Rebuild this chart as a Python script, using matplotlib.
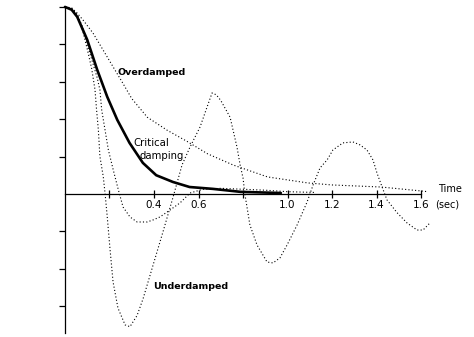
import matplotlib
matplotlib.use("Agg")
import matplotlib.pyplot as plt

# Kritik sönümleme (kalın düz çizgi)
t_kritik = [0, 0.03, 0.055, 0.1, 0.145, 0.19, 0.235, 0.29, 0.35, 0.41,
            0.485, 0.56, 0.665, 0.79, 0.97]
y_kritik = [1.0, 0.985, 0.947, 0.824, 0.663, 0.519, 0.396, 0.273, 0.166, 0.10,
            0.064, 0.037, 0.027, 0.011, 0.005]

# Aşırı sönümlü
t_asiri = [0, 0.03, 0.054, 0.081, 0.126, 0.171, 0.216, 0.261, 0.30, 0.37,
           0.46, 0.55, 0.64, 0.755, 0.91, 1.09, 1.2, 1.42, 1.6, 1.63]
y_asiri = [1.0, 0.995, 0.968, 0.93, 0.86, 0.77, 0.68, 0.59, 0.51, 0.41,
           0.34, 0.28, 0.215, 0.155, 0.091, 0.059, 0.048, 0.037, 0.016, 0.012]

# Az sönümlü (derin salınım)
t_az = [0, 0.03, 0.054, 0.076, 0.099, 0.12, 0.135, 0.142, 0.15, 0.157,
        0.172, 0.18, 0.189, 0.202, 0.216, 0.238, 0.27, 0.292, 0.324, 0.351,
        0.396, 0.441, 0.485, 0.526, 0.562, 0.607, 0.64, 0.661, 0.68, 0.70,
        0.742, 0.773, 0.787, 0.80, 0.809, 0.831, 0.863, 0.908, 0.935, 0.966,
        0.998, 1.043, 1.088, 1.115, 1.146, 1.178, 1.204, 1.249, 1.294, 1.326,
        1.357, 1.384, 1.402, 1.425, 1.447, 1.492, 1.537, 1.582, 1.609, 1.64]
y_az = [1.0, 0.99, 0.955, 0.89, 0.78, 0.67, 0.556, 0.449, 0.342, 0.2,
        0.093, 0.004, -0.11, -0.29, -0.47, -0.61, -0.70, -0.71, -0.65, -0.56,
        -0.38, -0.20, -0.02, 0.155, 0.251, 0.358, 0.47, 0.54, 0.53, 0.50,
        0.41, 0.25, 0.155, 0.086, -0.005, -0.166, -0.273, -0.364, -0.369, -0.342,
        -0.273, -0.166, -0.043, 0.048, 0.139, 0.182, 0.235, 0.273, 0.278, 0.262,
        0.235, 0.182, 0.112, 0.037, -0.032, -0.10, -0.155, -0.193, -0.193, -0.155]

# Az sönümlü (hafif salınım)
t_hafif = [0, 0.03, 0.054, 0.08, 0.1, 0.125, 0.145, 0.157, 0.165, 0.18,
           0.195, 0.217, 0.24, 0.261, 0.292, 0.324, 0.369, 0.396, 0.427, 0.472,
           0.517, 0.562, 0.62, 0.7, 0.8, 0.9, 1.0, 1.12]
y_hafif = [1.0, 0.99, 0.96, 0.89, 0.80, 0.70, 0.62, 0.556, 0.449, 0.342,
           0.235, 0.128, 0.021, -0.07, -0.123, -0.15, -0.15, -0.139, -0.123, -0.086,
           -0.048, 0.005, 0.025, 0.03, 0.025, 0.02, 0.012, 0.008]

x_ticks = [0.2, 0.4, 0.6, 0.8, 1.0, 1.2, 1.4, 1.6]
x_labels = ["", "0.4", "0.6", "", "1.0", "1.2", "1.4", "1.6"]
y_ticks = [-0.6, -0.4, -0.2, 0.2, 0.4, 0.6, 0.8, 1.0]

fig = plt.figure(figsize=(4.74, 3.37), dpi=100)
ax = fig.add_axes([0, 0, 1, 1])
ax.set_xlim(-0.292, 1.838)
ax.set_ylim(-0.765, 1.037)

nokta = (0, (1, 2))
for t, y in [(t_asiri, y_asiri), (t_az, y_az), (t_hafif, y_hafif)]:
    ax.plot(t, y, color="black", lw=0.8, linestyle=nokta)
ax.plot(t_kritik, y_kritik, color="black", lw=1.9, solid_capstyle="round")

for s in ["top", "right"]:
    ax.spines[s].set_visible(False)
ax.spines["left"].set_position(("data", 0))
ax.spines["bottom"].set_position(("data", 0))
ax.spines["left"].set_bounds(-0.745, 1.0)
ax.spines["bottom"].set_bounds(0, 1.6)
ax.spines["left"].set_linewidth(0.9)
ax.spines["bottom"].set_linewidth(0.9)

ax.set_xticks(x_ticks)
ax.set_xticklabels(x_labels)
ax.set_yticks(y_ticks)
ax.set_yticklabels([])
ax.tick_params(axis="x", direction="inout", length=6, width=0.9, pad=1.5,
               labelsize=7.5)
ax.tick_params(axis="y", direction="out", length=4, width=0.9)

ax.text(0.234, 0.647, "Overdamped", fontsize=6.8, fontweight="bold",
        ha="left", va="center")
ax.text(0.306, 0.273, "Critical", fontsize=7.3, ha="left", va="center")
ax.text(0.333, 0.203, "damping", fontsize=7.3, ha="left", va="center")
ax.text(0.396, -0.497, "Underdamped", fontsize=6.8, fontweight="bold",
        ha="left", va="center")
ax.text(1.676, 0.027, "Time", fontsize=7, ha="left", va="center")
ax.text(1.663, -0.059, "(sec)", fontsize=7, ha="left", va="center")

fig.savefig("out.png", dpi=100)
